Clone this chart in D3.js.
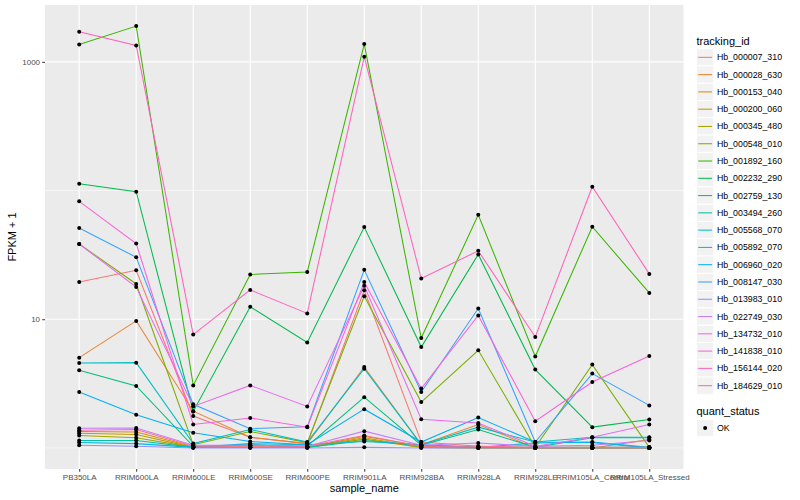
<!doctype html>
<html lang="en">
<head>
  <meta charset="utf-8">
  <script src="https://cdnjs.cloudflare.com/ajax/libs/d3/7.8.5/d3.min.js"></script>
  <style>
    html, body { margin:0px; padding:0px; background:white; }
    svg { font-family: "Liberation Sans", Arial, sans-serif; }
    .axis text { fill:#4D4D4D; font-size:8px; }
    .axis line { stroke:#333333; }
    .axis path { display:none; }
  </style>
</head>
<body>
<div id="view"></div>

<script>
// sample order on the x axis
var samples = ["PB350LA", "RRIM600LA", "RRIM600LE", "RRIM600SE", "RRIM600PE", "RRIM901LA",
               "RRIM928BA", "RRIM928LA", "RRIM928LE", "RRIM105LA_Control", "RRIM105LA_Stressed"];

// FPKM + 1 per gene, one value per sample
var hb_000007_310 = [19.5, 24.0, 1.77, 1.21, 1.08, 16.8, 1.11, 1.03, 1, 1, 1];
var hb_000028_630 = [5.03, 9.70, 1.93, 1.21, 1.08, 4.25, 1.06, 1.52, 1, 1, 1.16];
var hb_000153_040 = [1.34, 1.33, 1.02, 1.01, 1.01, 1.23, 1.03, 1.01, 1, 1, 1];
var hb_000200_060 = [1.30, 1.27, 1.01, 1.01, 1.01, 1.20, 1.01, 1, 1, 1, 1];
var hb_000345_480 = [1.25, 1.20, 1.01, 1.01, 1.01, 1.17, 1.01, 1, 1, 1, 1];
var hb_000548_010 = [38.4, 18.8, 1.06, 1.34, 1.10, 15.1, 2.27, 5.74, 1.01, 4.44, 1.01];
var hb_001892_160 = [1364, 1897, 3.06, 22.3, 23.3, 1374, 7.15, 64.8, 5.13, 52.3, 16.0];
var hb_002232_290 = [113, 97.9, 1.92, 12.5, 6.59, 52.0, 6.08, 31.9, 4.06, 1.45, 1.66];
var hb_002759_130 = [4.01, 3.03, 1.03, 1.05, 1.03, 2.48, 1.05, 1.39, 1.01, 1.01, 1.01];
var hb_003494_260 = [1.14, 1.14, 1.01, 1.06, 1.01, 1.14, 1.05, 1.01, 1.01, 1.20, 1.20];
var hb_005568_070 = [4.57, 4.60, 1.08, 1.39, 1.11, 4.13, 1.06, 1.45, 1.11, 1.21, 1.21];
var hb_005892_070 = [1.10, 1.08, 1.01, 1.08, 1.06, 1.12, 1.06, 1.01, 1.09, 1.11, 1.01];
var hb_006960_020 = [2.72, 1.81, 1.31, 1.12, 1.06, 2.00, 1.11, 1.72, 1.11, 1.10, 1.00];
var hb_008147_030 = [51.1, 30.3, 2.18, 1.41, 1.46, 24.2, 2.72, 12.1, 1.11, 3.78, 2.14];
var hb_013983_010 = [1.05, 1.03, 1, 1, 1, 1.01, 1, 1, 1, 1, 1];
var hb_022749_030 = [1.42, 1.43, 1.05, 1.05, 1.03, 1.35, 1.05, 1.09, 1.03, 1.05, 1.14];
var hb_134732_010 = [38.4, 17.8, 2.10, 3.06, 2.10, 18.2, 1.67, 1.56, 1.03, 1.21, 1.52];
var hb_141838_010 = [82.4, 38.8, 1.52, 1.71, 1.45, 19.5, 2.89, 10.7, 1.61, 3.25, 5.18];
var hb_156144_020 = [1711, 1340, 7.60, 16.9, 11.1, 1094, 20.7, 34.0, 7.28, 107, 22.5];
var hb_184629_010 = [1.37, 1.39, 1.03, 1.03, 1.03, 1.25, 1.03, 1.03, 1.01, 1.01, 1.01];

var trackingIds = ["Hb_000007_310", "Hb_000028_630", "Hb_000153_040", "Hb_000200_060", "Hb_000345_480",
                   "Hb_000548_010", "Hb_001892_160", "Hb_002232_290", "Hb_002759_130", "Hb_003494_260",
                   "Hb_005568_070", "Hb_005892_070", "Hb_006960_020", "Hb_008147_030", "Hb_013983_010",
                   "Hb_022749_030", "Hb_134732_010", "Hb_141838_010", "Hb_156144_020", "Hb_184629_010"];
var geneValues = [hb_000007_310, hb_000028_630, hb_000153_040, hb_000200_060, hb_000345_480,
                  hb_000548_010, hb_001892_160, hb_002232_290, hb_002759_130, hb_003494_260,
                  hb_005568_070, hb_005892_070, hb_006960_020, hb_008147_030, hb_013983_010,
                  hb_022749_030, hb_134732_010, hb_141838_010, hb_156144_020, hb_184629_010];

var yTicks = [10, 1000];
var yMinor = [1, 100];
var statusLevels = ["OK"];

// ggplot hue palette for 20 levels
var hues = ["#F8766D", "#EA8331", "#D89000", "#C09B00", "#A3A500", "#7CAE00", "#39B600", "#00BB4E",
            "#00BF7D", "#00C1A3", "#00BFC4", "#00BAE0", "#00B0F6", "#35A2FF", "#9590FF", "#C77CFF",
            "#E76BF3", "#FA62DB", "#FF62BC", "#FF6C91"];

var series = trackingIds.map(function(id, i){
  return { id: id, values: geneValues[i].map(function(v, j){ return { sample: samples[j], v: v }; }) };
});

var W = 800, H = 500;
var panel = { left: 45, right: 683.5, top: 5, bottom: 469 };

var svg = d3.select('#view').append('svg')
    .attr('width', W)
    .attr('height', H);

// scales (log axis expanded 5% like ggplot)
var allV = d3.merge(geneValues);
var lo = Math.log10(d3.min(allV)), hi = Math.log10(d3.max(allV));
var pad = (hi - lo) * 0.05;
var y = d3.scaleLog().domain([Math.pow(10, lo - pad), Math.pow(10, hi + pad)])
    .range([panel.bottom, panel.top]);
var x = d3.scalePoint().domain(samples).range([panel.left, panel.right]).padding(0.6);
var color = d3.scaleOrdinal().domain(trackingIds).range(hues);

// panel background + grid
svg.append('rect')
    .attr('x', panel.left).attr('y', panel.top)
    .attr('width', panel.right - panel.left).attr('height', panel.bottom - panel.top)
    .attr('fill', '#EBEBEB');

svg.selectAll('line.minor').data(yMinor).enter().append('line')
    .attr('x1', panel.left).attr('x2', panel.right)
    .attr('y1', function(d){ return y(d); }).attr('y2', function(d){ return y(d); })
    .attr('stroke', 'white').attr('stroke-width', 0.55);

svg.selectAll('line.majorY').data(yTicks).enter().append('line')
    .attr('x1', panel.left).attr('x2', panel.right)
    .attr('y1', function(d){ return y(d); }).attr('y2', function(d){ return y(d); })
    .attr('stroke', 'white').attr('stroke-width', 1.1);

svg.selectAll('line.majorX').data(samples).enter().append('line')
    .attr('y1', panel.top).attr('y2', panel.bottom)
    .attr('x1', function(d){ return x(d); }).attr('x2', function(d){ return x(d); })
    .attr('stroke', 'white').attr('stroke-width', 1.1);

// lines
var line = d3.line()
    .x(function(d){ return x(d.sample); })
    .y(function(d){ return y(d.v); });

svg.append('g').selectAll('path').data(series).enter().append('path')
    .attr('d', function(d){ return line(d.values); })
    .attr('fill', 'none')
    .attr('stroke', function(d){ return color(d.id); })
    .attr('stroke-width', 1.05);

// points
svg.append('g').selectAll('g').data(series).enter().append('g')
  .selectAll('circle').data(function(d){ return d.values; }).enter().append('circle')
    .attr('cx', function(d){ return x(d.sample); })
    .attr('cy', function(d){ return y(d.v); })
    .attr('r', 2)
    .attr('fill', 'black');

// axes
svg.append('g').attr('class', 'axis')
    .attr('transform', 'translate(' + panel.left + ',0)')
    .call(d3.axisLeft(y).tickValues(yTicks).tickFormat(d3.format('d')).tickSize(2.75).tickPadding(2.2));

svg.append('g').attr('class', 'axis')
    .attr('transform', 'translate(0,' + panel.bottom + ')')
    .call(d3.axisBottom(x).tickSize(2.75).tickPadding(2.2));

svg.append('text')
    .attr('x', (panel.left + panel.right) / 2).attr('y', 492)
    .attr('text-anchor', 'middle')
    .attr('font-size', '11px').attr('fill', 'black')
    .text('sample_name');

svg.append('text')
    .attr('transform', 'translate(16,' + ((panel.top + panel.bottom) / 2) + ') rotate(-90)')
    .attr('text-anchor', 'middle')
    .attr('font-size', '11px').attr('fill', 'black')
    .text('FPKM + 1');

// legend: tracking_id
var key = 17.28;
var lx = 696.5, ly = 48.7;
var legend = svg.append('g');

legend.append('text')
    .attr('x', lx).attr('y', 44.5)
    .attr('font-size', '11px').attr('fill', 'black')
    .text('tracking_id');

var item = legend.selectAll('g.item').data(trackingIds).enter().append('g')
    .attr('transform', function(d, i){ return 'translate(' + lx + ',' + (ly + i * key) + ')'; });

item.append('rect')
    .attr('width', key).attr('height', key)
    .attr('fill', '#F2F2F2').attr('stroke', 'white').attr('stroke-width', 1);
item.append('line')
    .attr('x1', 1.7).attr('x2', key - 1.7)
    .attr('y1', key / 2).attr('y2', key / 2)
    .attr('stroke', function(d){ return color(d); })
    .attr('stroke-width', 1.05);
item.append('text')
    .attr('x', key + 3.2).attr('y', key / 2 + 3)
    .attr('font-size', '8.8px').attr('fill', 'black')
    .text(function(d){ return d; });

// legend: quant_status
var qy = 419.4;
legend.append('text')
    .attr('x', lx).attr('y', 415)
    .attr('font-size', '11px').attr('fill', 'black')
    .text('quant_status');

var qItem = legend.selectAll('g.q').data(statusLevels).enter().append('g')
    .attr('transform', function(d, i){ return 'translate(' + lx + ',' + (qy + i * key) + ')'; });
qItem.append('rect')
    .attr('width', key).attr('height', key)
    .attr('fill', '#F2F2F2').attr('stroke', 'white').attr('stroke-width', 1);
qItem.append('circle')
    .attr('cx', key / 2).attr('cy', key / 2).attr('r', 2).attr('fill', 'black');
qItem.append('text')
    .attr('x', key + 3.2).attr('y', key / 2 + 3)
    .attr('font-size', '8.8px').attr('fill', 'black')
    .text(function(d){ return d; });
</script>
</body>
</html>
